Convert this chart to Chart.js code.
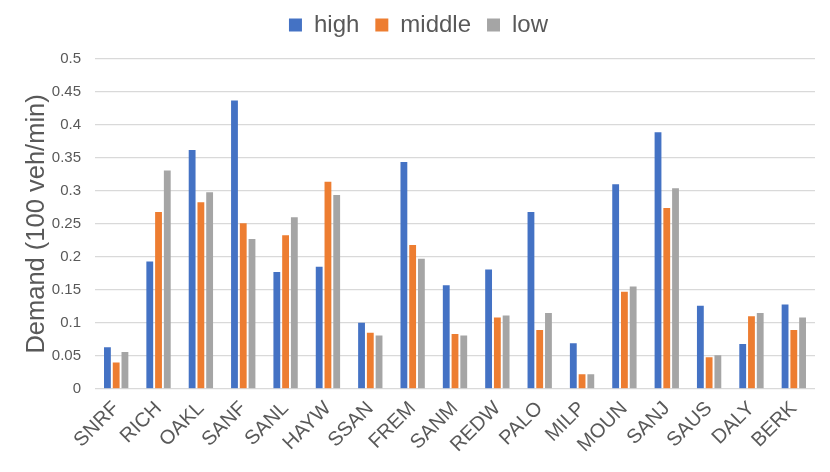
<!DOCTYPE html>
<html>
<head>
<meta charset="utf-8">
<script src="https://cdn.jsdelivr.net/npm/chart.js@4/dist/chart.umd.min.js"></script>
<style>
  html, body { margin: 0; padding: 0; background: #fff; }
  #wrap { width: 830px; height: 472px; }
</style>
</head>
<body>
<div id="wrap"><canvas id="demandChart" width="830" height="472"></canvas></div>
<script>
// valores
const stations = ['SNRF', 'RICH', 'OAKL', 'SANF', 'SANL', 'HAYW', 'SSAN', 'FREM', 'SANM',
  'REDW', 'PALO', 'MILP', 'MOUN', 'SANJ', 'SAUS', 'DALY', 'BERK'];
const high = [0.063, 0.193, 0.362, 0.437, 0.177, 0.185, 0.100, 0.344, 0.157,
  0.181, 0.268, 0.069, 0.310, 0.389, 0.126, 0.068, 0.128];
const middle = [0.040, 0.268, 0.283, 0.251, 0.233, 0.314, 0.085, 0.218, 0.083,
  0.108, 0.089, 0.022, 0.147, 0.274, 0.048, 0.110, 0.089];
const low = [0.056, 0.331, 0.298, 0.227, 0.260, 0.294, 0.081, 0.197, 0.081,
  0.111, 0.115, 0.022, 0.155, 0.304, 0.051, 0.115, 0.108];

const FONT = "'Liberation Sans', Arial, sans-serif";
const TEXT = '#595959';

function bars(label, data, color) {
  return {
    label,
    data,
    backgroundColor: color,
    barPercentage: 0.78,
    categoryPercentage: 0.62
  };
}

// espaço extra entre a legenda e a área do gráfico
const legendGap = {
  id: 'legendGap',
  beforeInit(chart) {
    const fit = chart.legend.fit;
    chart.legend.fit = function () {
      fit.call(this);
      this.height += 12;
    };
  }
};

const ctx = document.getElementById('demandChart').getContext('2d');
window.demandChart = new Chart(ctx, {
  type: 'bar',
  data: {
    labels: stations,
    datasets: [
      bars('high', high, '#4472C4'),
      bars('middle', middle, '#ED7D31'),
      bars('low', low, '#A5A5A5')
    ]
  },
  options: {
    responsive: false,
    animation: false,
    layout: { padding: { left: 22, right: 15, top: -3, bottom: 15 } },
    scales: {
      x: {
        grid: { display: false },
        border: { display: false },
        ticks: {
          color: TEXT,
          font: { family: FONT, size: 20 },
          minRotation: 45,
          maxRotation: 45,
          autoSkip: false,
          padding: 0
        }
      },
      y: {
        min: 0,
        max: 0.5,
        afterFit(scale) { scale.width = 73; },
        grid: { color: '#D9D9D9', lineWidth: 1.3, drawTicks: false },
        border: { display: false },
        ticks: {
          stepSize: 0.05,
          color: TEXT,
          font: { family: FONT, size: 15 },
          padding: 14,
          callback: v => +v.toFixed(2) + ''
        },
        title: {
          display: true,
          text: 'Demand (100 veh/min)',
          color: TEXT,
          font: { family: FONT, size: 25.5 },
          padding: 0
        }
      }
    },
    plugins: {
      legend: {
        position: 'top',
        labels: {
          color: TEXT,
          font: { family: FONT, size: 24 },
          boxWidth: 13,
          boxHeight: 13,
          padding: 16
        }
      },
      tooltip: { enabled: false }
    }
  },
  plugins: [legendGap]
});
</script>
</body>
</html>
